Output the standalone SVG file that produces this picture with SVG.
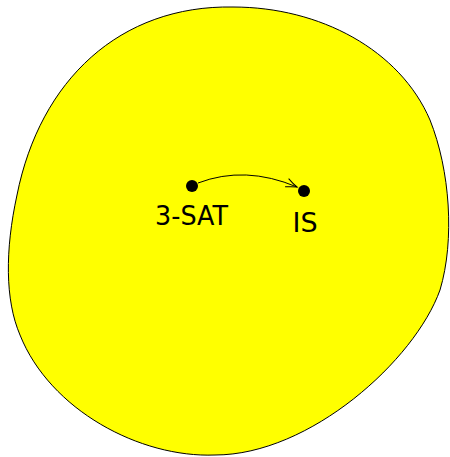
<svg xmlns="http://www.w3.org/2000/svg" width="450" height="457" viewBox="0 0 450 457">
<style>
.blob{fill:#ffff00;stroke:#000;stroke-width:1}
.dot{fill:#000}
.lbl{font-family:"DejaVu Sans","Liberation Sans",sans-serif;font-size:27px;fill:#000;text-anchor:middle}
.edge{fill:none;stroke:#000;stroke-width:1}
</style>
<defs>
<marker id="arr" markerWidth="14" markerHeight="12" refX="12" refY="6" orient="auto" markerUnits="userSpaceOnUse">
<path d="M1,1.5 Q7,4.5 12,6 Q7,7.5 1,10.5" fill="none" stroke="#000" stroke-width="1"/>
</marker>
</defs>
<g id="region">
<path class="blob" d="M233,7 C320,7 400,50 430,120 C450,170 455,240 440,290 C415,360 310,455 215,455 C140,458 50,410 20,335 C5,300 5,250 17,195 C40,80 120,5 233,7 Z"/>
</g>
<g id="connectors">
<path class="edge" d="M198,183 Q245,165 297,187" marker-end="url(#arr)"/>
</g>
<g id="node-3sat">
<circle class="dot" cx="192" cy="186" r="6"/>
<text class="lbl" x="191.5" y="225" textLength="73" lengthAdjust="spacingAndGlyphs">3-SAT</text>
</g>
<g id="node-is">
<circle class="dot" cx="304" cy="191" r="6"/>
<text class="lbl" x="305" y="232">IS</text>
</g>
</svg>
